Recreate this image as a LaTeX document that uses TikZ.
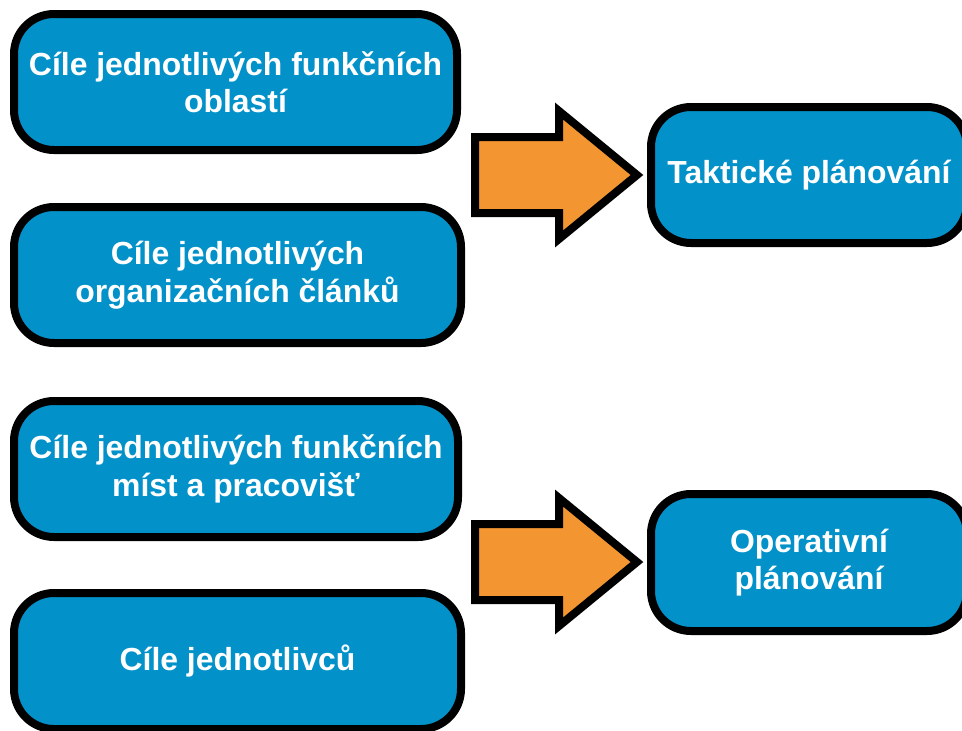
\documentclass[tikz,border=0pt]{standalone}
\usepackage{fontspec}
\setmainfont{Liberation Sans}
\definecolor{boxblue}{RGB}{3,145,201}
\definecolor{arroworange}{RGB}{243,149,48}
\begin{document}
\begin{tikzpicture}[x=1pt,y=-1pt,
  goalbox/.style={draw=black, fill=boxblue, line width=8pt, rounded corners=40pt,
    inner sep=0pt, outer sep=0pt, align=center, text=white,
    font=\fontsize{31.9}{37.5}\selectfont\bfseries},
  blockarrow/.style={draw=black, fill=arroworange, line width=8pt, line join=miter, miter limit=10}]
\clip (0,0) rectangle (962,731);
\fill[white] (0,0) rectangle (962,731);
\node[goalbox, minimum width=443pt, minimum height=136pt] (g1) at (235.5,82) {Cíle jednotlivých funkčních\\oblastí};
\node[goalbox, minimum width=447pt, minimum height=136pt] (g2) at (237.5,275) {Cíle jednotlivých\\organizačních článků};
\node[goalbox, minimum width=444pt, minimum height=136pt] (g3) at (236,469) {Cíle jednotlivých funkčních\\míst a pracovišť};
\node[goalbox, minimum width=447pt, minimum height=136pt] (g4) at (237.5,661) {Cíle jednotlivců};
\node[goalbox, minimum width=316pt, minimum height=136pt] (tp) at (809,175) {Taktické plánování};
\node[goalbox, minimum width=316pt, minimum height=137pt] (op) at (809,562.5) {Operativní\\plánování};
% block arrows
\draw[blockarrow] (475,137) -- (559,137) -- (559,111) -- (637,175) -- (559,239) -- (559,213) -- (475,213) -- cycle;
\draw[blockarrow] (475,524) -- (559,524) -- (559,498) -- (637,562) -- (559,626) -- (559,600) -- (475,600) -- cycle;
\end{tikzpicture}
\end{document}
